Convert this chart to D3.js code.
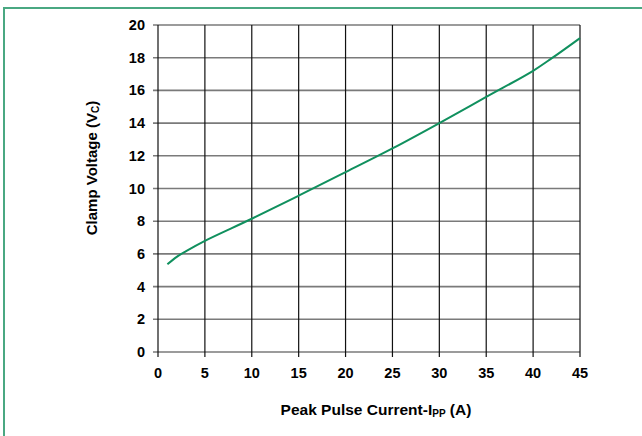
<!DOCTYPE html>
<html><head><meta charset="utf-8">
<script src="https://cdn.jsdelivr.net/npm/d3@7"></script>
<style>body{margin:0;background:#fff}svg{display:block}text{font-family:"Liberation Sans",Arial,sans-serif;font-weight:bold;fill:#000}</style>
</head><body>
<script>
const current = [1, 2, 3, 5, 10, 15, 20, 25, 30, 35, 40, 42, 45];
const clampVoltage = [5.36, 5.82, 6.17, 6.8, 8.15, 9.56, 11.0, 12.45, 14.0, 15.6, 17.2, 17.97, 19.2];
const xTicks = [0, 5, 10, 15, 20, 25, 30, 35, 40, 45];
const yTicks = [0, 2, 4, 6, 8, 10, 12, 14, 16, 18, 20];

const W = 642, H = 436;
const svg = d3.select("body").append("svg").attr("width", W).attr("height", H);
// frame (left & top)
svg.append("path").attr("d", "M4,436 V8 H642").attr("fill","none").attr("stroke","#4aa882").attr("stroke-width",2);

const x = d3.scaleLinear().domain([0,45]).range([158,580]);
const y = d3.scaleLinear().domain([0,20]).range([352,25]);

// horizontal gridlines (gray)
svg.append("g").selectAll("line").data(yTicks).join("line")
  .attr("x1", x(0)-5).attr("x2", x(45)).attr("y1", d=>y(d)).attr("y2", d=>y(d))
  .attr("stroke","#7a7a7a").attr("stroke-width",1.6);
// vertical gridlines (black)
svg.append("g").selectAll("line").data(xTicks).join("line")
  .attr("x1", d=>x(d)).attr("x2", d=>x(d)).attr("y1", y(20)).attr("y2", y(0)+5)
  .attr("stroke","#111").attr("stroke-width",1.2);

// tick labels
svg.append("g").selectAll("text").data(yTicks).join("text")
  .attr("x", 145).attr("y", d=>y(d)+5).attr("text-anchor","end").attr("font-size",14.5).text(d=>d);
svg.append("g").selectAll("text").data(xTicks).join("text")
  .attr("x", d=>x(d)).attr("y", 378).attr("text-anchor","middle").attr("font-size",14.5).text(d=>d);

// axis titles
const xt = svg.append("text").attr("x", 376).attr("y", 415).attr("text-anchor","middle").attr("font-size",15.5);
xt.append("tspan").text("Peak Pulse Current-I");
xt.append("tspan").attr("font-size",10).attr("dy",2).text("PP");
xt.append("tspan").attr("dy",-2).text(" (A)");

const yt = svg.append("text").attr("transform","translate(97,168) rotate(-90)").attr("text-anchor","middle").attr("font-size",15);
yt.append("tspan").text("Clamp Voltage (V");
yt.append("tspan").attr("font-size",10).attr("dy",2).text("C");
yt.append("tspan").attr("dy",-2).text(")");

// curve
const pts = current.map((c,i)=>[c, clampVoltage[i]]);
svg.append("path").datum(pts)
  .attr("d", d3.line().x(d=>x(d[0])).y(d=>y(d[1])).curve(d3.curveCatmullRom.alpha(0.5)))
  .attr("fill","none").attr("stroke","#10905e").attr("stroke-width",2);
</script>
</body></html>
